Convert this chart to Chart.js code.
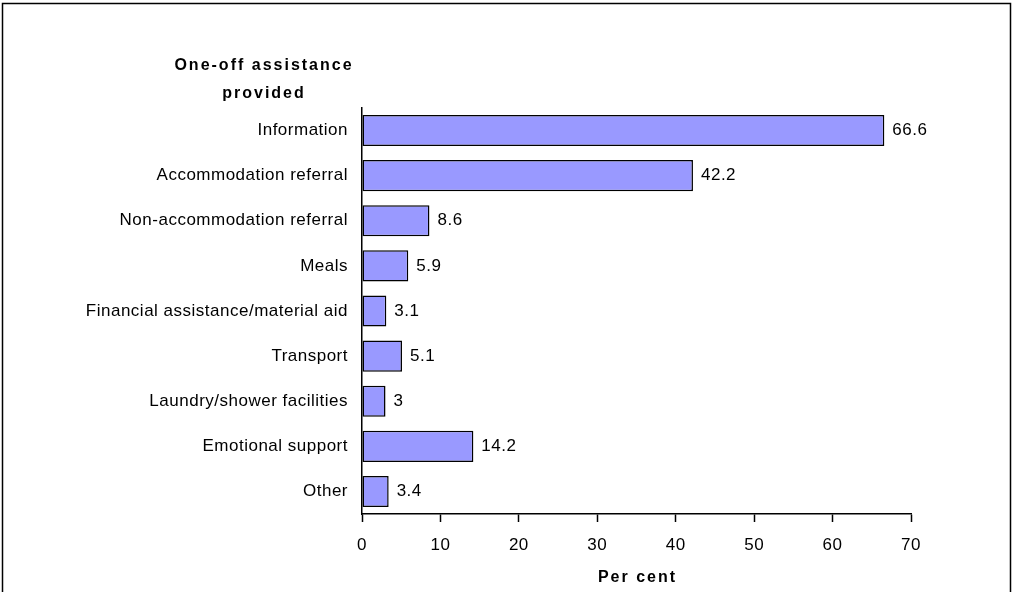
<!DOCTYPE html>
<html>
<head>
<meta charset="utf-8">
<script src="https://cdn.jsdelivr.net/npm/chart.js@4"></script>
<style>
  html, body { margin: 0; padding: 0; background: #fff; }
  #wrap { width: 1015px; height: 592px; }
</style>
</head>
<body>
<div id="wrap"><canvas id="assistChart" width="1015" height="592"></canvas></div>
<script>
"use strict";

// one-off assistance categories, top to bottom
const categories = [
  'Information',
  'Accommodation referral',
  'Non-accommodation referral',
  'Meals',
  'Financial assistance/material aid',
  'Transport',
  'Laundry/shower facilities',
  'Emotional support',
  'Other'
];
const percentValues = [66.6, 42.2, 8.6, 5.9, 3.1, 5.1, 3, 14.2, 3.4];
const xTicks = [0, 10, 20, 30, 40, 50, 60, 70];
const yTitleLines = ['One-off assistance', 'provided'];
const xTitle = 'Per cent';

const FONT = "'Liberation Sans', Arial, sans-serif";

// spaced-out lettering like the old spreadsheet chart
const spacingPlugin = {
  id: 'spacing',
  beforeDraw(chart) {
    chart.ctx.letterSpacing = '0.5px';
  }
};

// value at the end of each bar
const valueLabels = {
  id: 'valueLabels',
  afterDatasetsDraw(chart) {
    const ctx = chart.ctx;
    const meta = chart.getDatasetMeta(0);
    ctx.save();
    ctx.letterSpacing = '0.5px';
    ctx.font = '17px ' + FONT;
    ctx.fillStyle = '#000';
    ctx.textAlign = 'left';
    ctx.textBaseline = 'middle';
    meta.data.forEach((bar, i) => {
      ctx.fillText(String(percentValues[i]), bar.x + 8, bar.y);
    });
    ctx.restore();
  }
};

// frame and axis titles
const extras = {
  id: 'extras',
  afterDraw(chart) {
    const ctx = chart.ctx;
    const area = chart.chartArea;
    ctx.save();
    ctx.strokeStyle = '#000';
    ctx.lineWidth = 1.5;
    ctx.beginPath();
    ctx.moveTo(2.5, 600);
    ctx.lineTo(2.5, 3.5);
    ctx.lineTo(1010.5, 3.5);
    ctx.lineTo(1010.5, 600);
    ctx.stroke();

    ctx.fillStyle = '#000';
    ctx.font = 'bold 16px ' + FONT;
    ctx.letterSpacing = '2px';
    ctx.textAlign = 'center';
    ctx.textBaseline = 'middle';
    ctx.fillText(yTitleLines[0], 264, 66);
    ctx.fillText(yTitleLines[1], 264, 94);
    ctx.fillText(xTitle, (area.left + area.right) / 2 + 1, 578);
    ctx.restore();
  }
};

const ctx = document.getElementById('assistChart').getContext('2d');

new Chart(ctx, {
  type: 'bar',
  data: {
    labels: categories,
    datasets: [{
      data: percentValues,
      backgroundColor: '#9999ff',
      borderColor: '#000',
      borderWidth: 1.5,
      borderSkipped: false,
      categoryPercentage: 1,
      barPercentage: 0.69
    }]
  },
  options: {
    indexAxis: 'y',
    responsive: false,
    animation: false,
    layout: { padding: { top: 108, right: 104, left: 0, bottom: 0 } },
    plugins: {
      legend: { display: false },
      tooltip: { enabled: false }
    },
    scales: {
      x: {
        type: 'linear',
        min: 0,
        max: 70,
        afterBuildTicks: (scale) => { scale.ticks = xTicks.map(v => ({ value: v })); },
        afterFit: (scale) => { scale.height = 78; },
        grid: {
          display: true,
          drawOnChartArea: false,
          drawTicks: true,
          tickLength: 8,
          tickWidth: 1.5,
          color: '#000'
        },
        border: { display: true, color: '#000', width: 1.5 },
        ticks: {
          padding: 13,
          color: '#000',
          font: { family: FONT, size: 17 }
        }
      },
      y: {
        afterFit: (scale) => { scale.width = 362; },
        grid: { display: false, drawTicks: false },
        border: { display: true, color: '#000', width: 1.5 },
        ticks: {
          padding: 14,
          color: '#000',
          font: { family: FONT, size: 17 }
        }
      }
    }
  },
  plugins: [spacingPlugin, valueLabels, extras]
});
</script>
</body>
</html>
